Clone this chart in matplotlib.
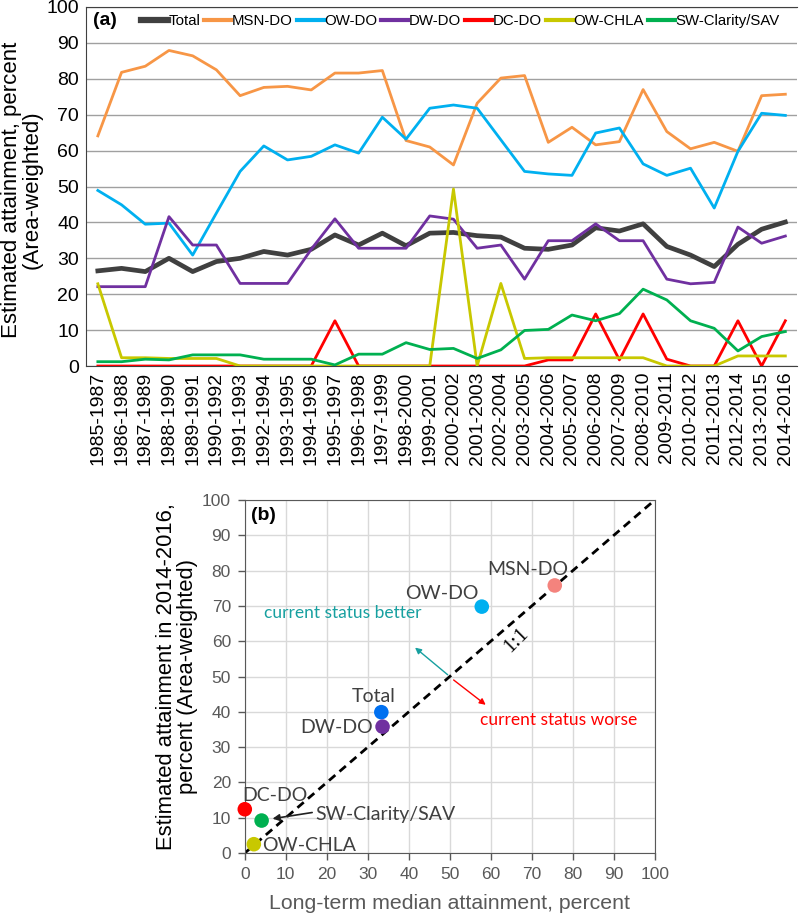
import matplotlib
matplotlib.use("Agg")
import matplotlib.pyplot as plt

plt.rcParams['font.family'] = ['Liberation Sans', 'DejaVu Sans']

# ── données : panneau (a) ────────────────────────────────────────────────
periods = [f"{y}-{y + 2}" for y in range(1985, 2015)]

total = [26.5, 27.2, 26.3, 30.0, 26.3, 29.1, 30.0, 31.9, 30.9, 32.5,
         36.5, 33.7, 37.0, 33.5, 37.0, 37.2, 36.3, 35.9, 32.8, 32.5,
         33.7, 38.5, 37.6, 39.6, 33.3, 30.9, 27.7, 33.9, 38.1, 40.1]
msn_do = [64.1, 81.8, 83.5, 87.9, 86.4, 82.5, 75.3, 77.6, 77.9, 76.9,
          81.6, 81.6, 82.3, 62.8, 61.0, 56.0, 73.2, 80.2, 80.9, 62.3,
          66.5, 61.6, 62.5, 77.0, 65.3, 60.5, 62.3, 59.8, 75.3, 75.7]
ow_do = [48.9, 44.9, 39.5, 39.8, 30.9, 42.6, 54.2, 61.3, 57.4, 58.4,
         61.6, 59.3, 69.3, 63.2, 71.8, 72.7, 71.8, 63.0, 54.2, 53.5,
         53.1, 64.9, 66.3, 56.3, 53.1, 55.1, 44.0, 59.8, 70.4, 69.8]
dw_do = [22.1, 22.1, 22.1, 41.6, 33.7, 33.7, 23.0, 23.0, 23.0, 32.5,
         41.0, 32.8, 32.8, 32.8, 41.8, 40.9, 32.8, 33.7, 24.2, 34.9,
         34.9, 39.6, 34.9, 34.9, 24.2, 22.9, 23.3, 38.7, 34.2, 36.2]
dc_do = [0, 0, 0, 0, 0, 0, 0, 0, 0, 0,
         12.6, 0, 0, 0, 0, 0, 0, 0, 0, 1.7,
         1.7, 14.5, 1.7, 14.5, 1.9, 0, 0, 12.6, 0, 12.6]
ow_chla = [22.9, 2.3, 2.3, 2.1, 2.1, 2.1, 0, 0, 0, 0,
           0, 0, 0, 0, 0, 49.3, 0, 23.0, 2.1, 2.3,
           2.3, 2.3, 2.3, 2.3, 0, 0, 0, 2.8, 2.8, 2.8]
sw_sav = [1.2, 1.2, 1.9, 1.7, 3.1, 3.1, 3.1, 1.9, 1.9, 1.9,
          0.3, 3.3, 3.3, 6.5, 4.6, 4.9, 2.1, 4.5, 9.9, 10.2,
          14.2, 12.6, 14.6, 21.4, 18.4, 12.6, 10.5, 4.2, 8.2, 9.6]

series_names = ['Total', 'MSN-DO', 'OW-DO', 'DW-DO', 'DC-DO', 'OW-CHLA', 'SW-Clarity/SAV']
series_values = [total, msn_do, ow_do, dw_do, dc_do, ow_chla, sw_sav]
series_colors = ['#404040', '#F79646', '#00B0F0', '#7030A0', '#FF0000', '#C8C800', '#00B050']

# ── données : panneau (b) ────────────────────────────────────────────────
point_names = ['MSN-DO', 'OW-DO', 'Total', 'DW-DO', 'DC-DO', 'SW-Clarity/SAV', 'OW-CHLA']
median_attain = [75.6, 57.8, 33.3, 33.6, 0.0, 4.1, 2.2]
current_attain = [75.8, 69.8, 39.9, 35.8, 12.4, 9.2, 2.5]
point_colors = ['#F4837D', '#00B0F0', '#0070F0', '#7030A0', '#FF0000', '#00B050', '#C8C800']
# position des étiquettes (coordonnées de données)
label_pos = [(69, 80.2), (48, 73.5), (31.5, 44.3), (22.5, 35.7), (7.3, 16.2), (34.4, 10.8), (15.7, 2.1)]

fig = plt.figure(figsize=(8, 9.21), dpi=100)

# ─────────────────────────────────────────────────────────────────────────
# Panneau (a)
# ─────────────────────────────────────────────────────────────────────────
ax1 = fig.add_axes([0.1075, 0.6026, 0.889, 0.3898])
x = list(range(len(periods)))
for name, vals, col in zip(series_names, series_values, series_colors):
    lw = 3.4 if name == 'Total' else 2.0
    ax1.plot(x, vals, color=col, lw=lw, label=name, zorder=3 if name != 'Total' else 2)

ax1.set_xlim(-0.5, len(periods) - 0.5)
ax1.set_ylim(0, 100)
ax1.set_yticks(range(0, 101, 10))
ax1.set_xticks(x)
ax1.set_xticklabels(periods, rotation=90, fontsize=14)
ax1.tick_params(axis='y', labelsize=14, length=0, pad=5)
ax1.tick_params(axis='x', length=0, pad=4)
ax1.yaxis.grid(True, color='#A0A0A0', lw=1)
ax1.set_axisbelow(True)
for s in ax1.spines.values():
    s.set_color('#404040')
ax1.spines['right'].set_visible(False)
ax1.set_ylabel("Estimated attainment, percent\n(Area-weighted)", fontsize=16, linespacing=0.95)
ax1.yaxis.set_label_coords(-0.061, 0.49)

ax1.text(0.01, 0.985, '(a)', transform=ax1.transAxes, fontsize=14, fontweight='bold',
         va='top', ha='left')
leg = ax1.legend(ncol=7, loc='upper right', bbox_to_anchor=(0.99, 1.01), frameon=False,
                 fontsize=10.8, handlelength=1.8, handletextpad=0.05, columnspacing=0.25,
                 borderaxespad=0.3)
for h in leg.get_lines():
    h.set_linewidth(3.0)
leg.get_lines()[0].set_linewidth(4.5)

# ─────────────────────────────────────────────────────────────────────────
# Panneau (b)
# ─────────────────────────────────────────────────────────────────────────
gray = '#595959'
ax2 = fig.add_axes([0.306, 0.0738, 0.5125, 0.3833])
ax2.set_xlim(0, 100)
ax2.set_ylim(0, 100)
ax2.set_xticks(range(0, 101, 10))
ax2.set_yticks(range(0, 101, 10))
ax2.grid(True, color='#D9D9D9', lw=1)
ax2.set_axisbelow(True)
ax2.tick_params(labelsize=12.5, colors=gray, length=5, width=1, pad=5)
for s in ax2.spines.values():
    s.set_color(gray)

ax2.plot([0, 100], [0, 100], ls='--', color='black', lw=2, dashes=(3, 2), zorder=2)
ax2.scatter(median_attain, current_attain, s=110, c=point_colors, zorder=4, clip_on=False,
            linewidths=0)

annot_font = ['Lato', 'DejaVu Sans']
for name, (tx, ty) in zip(point_names, label_pos):
    ax2.text(tx, ty, name, fontsize=14, color='#404040', ha='center', va='center',
             family=annot_font, zorder=5)

ax2.annotate('', xy=(6.1, 9.6), xytext=(17.1, 11.6),
             arrowprops=dict(arrowstyle='-|>', color='#202020', lw=1.2, mutation_scale=10))

ax2.text(66.3, 60.2, '1:1', rotation=45, fontsize=15, ha='center', va='center',
         family=['Liberation Serif', 'DejaVu Serif'])

teal = '#17A0A0'
ax2.annotate('', xy=(41, 58.7), xytext=(50, 50),
             arrowprops=dict(arrowstyle='-|>', color=teal, lw=1, mutation_scale=9))
ax2.annotate('', xy=(59.3, 41.5), xytext=(50.4, 49.5),
             arrowprops=dict(arrowstyle='-|>', color='#FF0000', lw=1, mutation_scale=9))
ax2.text(24, 68, 'current status better', color=teal, fontsize=12.5, ha='center', va='center',
         family=annot_font)
ax2.text(76.5, 37.7, 'current status worse', color='#FF0000', fontsize=12.5, ha='center',
         va='center', family=annot_font)

ax2.text(1.5, 95.5, '(b)', fontsize=14, fontweight='bold', va='center', ha='left')

ax2.set_xlabel('Long-term median attainment, percent', fontsize=15.3, color=gray, labelpad=9)
ax2.set_ylabel('Estimated attainment in 2014-2016,\npercent (Area-weighted)', fontsize=15.8,
               linespacing=0.95)
ax2.yaxis.set_label_coords(-0.115, 0.5)

fig.savefig('out.png', dpi=100)
